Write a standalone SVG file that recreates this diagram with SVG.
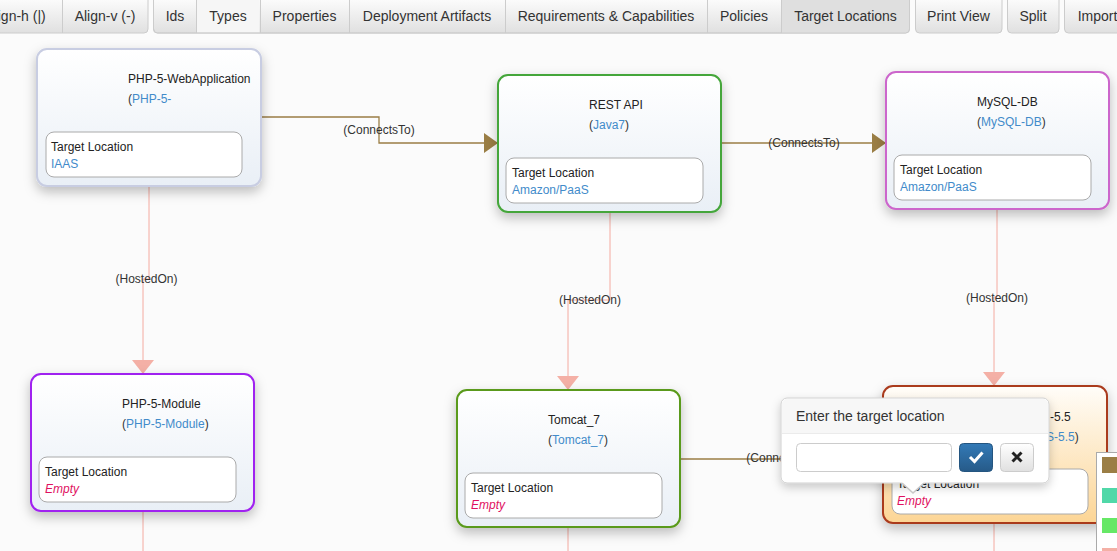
<svg xmlns="http://www.w3.org/2000/svg" width="1117" height="551" viewBox="0 0 1117 551">
<defs>
<style>
text{font-family:"Liberation Sans",Arial,sans-serif;}
.btxt{font-size:14px;fill:#333;text-anchor:middle;}
.node{stroke-width:2;fill:url(#nodeGrad);filter:url(#shadow);}
.name{font-size:12px;fill:#222;}
.type{font-size:12px;fill:#333;}
.blue{fill:#428bca;}
.inner{fill:#fff;stroke:#aaa;stroke-width:1;}
.tl{font-size:12px;fill:#222;}
.val{font-size:12px;fill:#428bca;}
.empty{font-size:12px;fill:#e0115f;font-style:italic;}
.conn{fill:none;stroke:#9b7e45;stroke-width:1.3;}
.host{fill:none;stroke:#f4aaa0;stroke-width:1;}
.lbl{font-size:12px;fill:#333;text-anchor:middle;}
.sep{stroke:#ccc;stroke-width:1;}
</style>
<linearGradient id="nodeGrad" x1="0" y1="0" x2="0" y2="1"><stop offset="0" stop-color="#ffffff"/><stop offset="1" stop-color="#e9eff6"/></linearGradient>
<linearGradient id="selGrad" x1="0" y1="0" x2="0" y2="1"><stop offset="0" stop-color="#fffdf9"/><stop offset="1" stop-color="#fcd595"/></linearGradient>
<linearGradient id="btnGrad" x1="0" y1="0" x2="0" y2="1"><stop offset="0" stop-color="#ffffff"/><stop offset="1" stop-color="#e0e0e0"/></linearGradient>
<linearGradient id="priGrad" x1="0" y1="0" x2="0" y2="1"><stop offset="0" stop-color="#337ab7"/><stop offset="1" stop-color="#265a88"/></linearGradient>
<filter id="shadow" x="-20%" y="-20%" width="140%" height="150%"><feDropShadow dx="0" dy="5" stdDeviation="6" flood-color="#000" flood-opacity="0.25"/></filter>
<filter id="pshadow" x="-20%" y="-20%" width="140%" height="160%"><feDropShadow dx="0" dy="4" stdDeviation="5" flood-color="#000" flood-opacity="0.2"/></filter>
<marker id="arrC" markerUnits="userSpaceOnUse" markerWidth="14" markerHeight="20" refX="14" refY="10" orient="auto"><path d="M0,0 L14,10 L0,20 z" fill="#9b7e45"/></marker>
<marker id="arrH" markerUnits="userSpaceOnUse" markerWidth="14" markerHeight="22" refX="14" refY="11" orient="auto"><path d="M0,0 L14,11 L0,22 z" fill="#f4b0a6"/></marker>
</defs>
<rect width="1117" height="551" fill="#fbfbfb"/>

<g id="toolbar">
<path d="M-30,-5 H148 V29 a4,4 0 0 1 -4,4 H-30 z" fill="url(#btnGrad)" stroke="#ccc"/>
<line class="sep" x1="62.5" y1="-5" x2="62.5" y2="33"/>
<path d="M153.5,-5 H909.5 V29 a4,4 0 0 1 -4,4 H157.5 a4,4 0 0 1 -4,-4 z" fill="url(#btnGrad)" stroke="#ccc"/>
<rect x="196.5" y="-4" width="63" height="36.5" fill="#f6f6f6"/>
<path d="M781.5,-4.5 H909 V29 a4,4 0 0 1 -4,4 H781.5 z" fill="#dfdfdf"/>
<rect x="781.5" y="-4.5" width="127.5" height="3" fill="#d2d2d2"/>
<line class="sep" x1="196.5" y1="-5" x2="196.5" y2="33"/>
<line class="sep" x1="260.5" y1="-5" x2="260.5" y2="33"/>
<line class="sep" x1="349.5" y1="-5" x2="349.5" y2="33"/>
<line class="sep" x1="505.5" y1="-5" x2="505.5" y2="33"/>
<line class="sep" x1="707.5" y1="-5" x2="707.5" y2="33"/>
<line class="sep" x1="781.5" y1="-5" x2="781.5" y2="33"/>
<path d="M153.5,-5 H909.5 V29 a4,4 0 0 1 -4,4 H157.5 a4,4 0 0 1 -4,-4 z" fill="none" stroke="#ccc"/>
<rect x="915.5" y="-5" width="86.5" height="38" rx="4" fill="url(#btnGrad)" stroke="#ccc"/>
<rect x="1007.5" y="-5" width="51.5" height="38" rx="4" fill="url(#btnGrad)" stroke="#ccc"/>
<rect x="1064.5" y="-5" width="80" height="38" rx="4" fill="url(#btnGrad)" stroke="#ccc"/>
<text class="btxt" x="15.5" y="21">Align-h (|)</text>
<text class="btxt" x="105" y="21">Align-v (-)</text>
<text class="btxt" x="175" y="21">Ids</text>
<text class="btxt" x="228" y="21">Types</text>
<text class="btxt" x="304.5" y="21">Properties</text>
<text class="btxt" x="427" y="21">Deployment Artifacts</text>
<text class="btxt" x="606" y="21">Requirements &amp; Capabilities</text>
<text class="btxt" x="744" y="21">Policies</text>
<text class="btxt" x="845.5" y="21">Target Locations</text>
<text class="btxt" x="958.5" y="21">Print View</text>
<text class="btxt" x="1033" y="21">Split</text>
<text class="btxt" x="1097.5" y="21">Import</text>
</g>

<g id="connectors">
<path class="conn" d="M261,117 H379 V143 H498" marker-end="url(#arrC)"/>
<text class="lbl" x="379" y="134">(ConnectsTo)</text>
<path class="conn" d="M721,143 H886" marker-end="url(#arrC)"/>
<text class="lbl" x="804" y="147">(ConnectsTo)</text>
<path class="conn" d="M680,459 H883" marker-end="url(#arrC)"/>
<text class="lbl" x="782" y="462">(ConnectsTo)</text>
<path class="host" d="M149,186 V279 H143 V374" marker-end="url(#arrH)"/>
<text class="lbl" x="146.5" y="283">(HostedOn)</text>
<path class="host" d="M610,212 V300 H568 V390" marker-end="url(#arrH)"/>
<text class="lbl" x="590" y="304">(HostedOn)</text>
<path class="host" d="M997,209 V297 H994 V386" marker-end="url(#arrH)"/>
<text class="lbl" x="997" y="302">(HostedOn)</text>
<path class="host" d="M143,511 V551"/>
<path class="host" d="M568,527 V551"/>
<path class="host" d="M994,523 V551"/>
</g>

<g id="node-php5-webapplication" transform="translate(37,49)">
<rect class="node" width="224" height="137" rx="10" stroke="#c8cde2"/>
<text class="name" x="91" y="34">PHP-5-WebApplication</text>
<text class="type" x="91" y="54">(<tspan class="blue">PHP-5-</tspan></text>
<rect class="inner" x="9" y="83" width="196" height="45" rx="8"/>
<text class="tl" x="14" y="102">Target Location</text>
<text class="val" x="14" y="119">IAAS</text>
</g>

<g id="node-rest-api" transform="translate(498,75)">
<rect class="node" width="223" height="137" rx="10" stroke="#44a63a"/>
<text class="name" x="91" y="34">REST API</text>
<text class="type" x="91" y="54">(<tspan class="blue">Java7</tspan>)</text>
<rect class="inner" x="8" y="83" width="197" height="45" rx="8"/>
<text class="tl" x="14" y="102">Target Location</text>
<text class="val" x="14" y="119">Amazon/PaaS</text>
</g>

<g id="node-mysql-db" transform="translate(886,72)">
<rect class="node" width="223" height="137" rx="10" stroke="#cc66cc"/>
<text class="name" x="91" y="34">MySQL-DB</text>
<text class="type" x="91" y="54">(<tspan class="blue">MySQL-DB</tspan>)</text>
<rect class="inner" x="8" y="83" width="197" height="45" rx="8"/>
<text class="tl" x="14" y="102">Target Location</text>
<text class="val" x="14" y="119">Amazon/PaaS</text>
</g>

<g id="node-php5-module" transform="translate(31,374)">
<rect class="node" width="223" height="137" rx="10" stroke="#a020f0"/>
<text class="name" x="91" y="34">PHP-5-Module</text>
<text class="type" x="91" y="54">(<tspan class="blue">PHP-5-Module</tspan>)</text>
<rect class="inner" x="8" y="83" width="197" height="45" rx="8"/>
<text class="tl" x="14" y="102">Target Location</text>
<text class="empty" x="14" y="119">Empty</text>
</g>

<g id="node-tomcat7" transform="translate(457,390)">
<rect class="node" width="223" height="137" rx="10" stroke="#5a9a1a"/>
<text class="name" x="91" y="34">Tomcat_7</text>
<text class="type" x="91" y="54">(<tspan class="blue">Tomcat_7</tspan>)</text>
<rect class="inner" x="8" y="83" width="197" height="45" rx="8"/>
<text class="tl" x="14" y="102">Target Location</text>
<text class="empty" x="14" y="119">Empty</text>
</g>

<g id="node-selected" transform="translate(883,386)">
<rect width="224" height="137" rx="10" fill="url(#selGrad)" stroke="#aa3a1e" stroke-width="2" filter="url(#shadow)"/>
<text class="name" x="167" y="35">-5.5</text>
<text class="type" x="163" y="55"><tspan class="blue">S-5.5</tspan>)</text>
<rect class="inner" x="9" y="83" width="196" height="45" rx="8"/>
<text class="tl" x="14" y="102">Target Location</text>
<text class="empty" x="14" y="119">Empty</text>
</g>

<g id="legend">
<rect x="1096.5" y="452.5" width="40" height="120" fill="#fff" stroke="#aaa"/>
<rect x="1102" y="457" width="20" height="16" fill="#9b7e45"/>
<rect x="1102" y="488" width="20" height="15" fill="#50d8a8"/>
<rect x="1102" y="518" width="20" height="15" fill="#66e866"/>
<rect x="1102" y="548" width="20" height="15" fill="#f4b0a6"/>
</g>

<g id="popover">
<rect x="781" y="398" width="268" height="85" rx="6" fill="#fff" stroke="#d0d0d0" filter="url(#pshadow)"/>
<path d="M782,433 V404 a5,5 0 0 1 5,-5 H1043 a5,5 0 0 1 5,5 V433 z" fill="#f7f7f7"/>
<line x1="782" y1="433.5" x2="1048" y2="433.5" stroke="#ebebeb"/>
<text x="796" y="421" font-size="14" fill="#333">Enter the target location</text>
<rect x="796.5" y="443.5" width="155" height="28" rx="4" fill="#fff" stroke="#ccc"/>
<rect x="959.5" y="443.5" width="33" height="28" rx="4" fill="url(#priGrad)" stroke="#245580"/>
<path d="M970,457 L974.5,461.5 L982.5,452.5" fill="none" stroke="#fff" stroke-width="3"/>
<rect x="1000.5" y="443.5" width="33" height="28" rx="4" fill="url(#btnGrad)" stroke="#ccc"/>
<path d="M1012.5,452.5 L1021.5,461.5 M1021.5,452.5 L1012.5,461.5" fill="none" stroke="#222" stroke-width="3"/>
<path d="M901,483 L913,494 L925,483 z" fill="#c8c8c8"/>
<path d="M902,482 L913,492 L924,482 z" fill="#fff"/>
</g>
</svg>
